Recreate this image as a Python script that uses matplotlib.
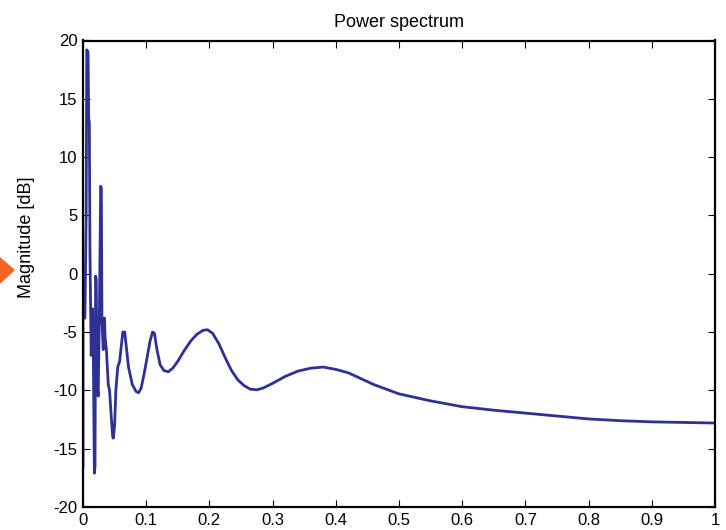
import matplotlib
matplotlib.use("Agg")
import matplotlib.pyplot as plt
from matplotlib.patches import Polygon

plt.rcParams['font.family'] = ['Liberation Sans', 'DejaVu Sans']

title = "Power spectrum"
ylabel = "Magnitude [dB]"

freq = [0.000, 0.000, 0.003, 0.005, 0.006, 0.008, 0.009, 0.010, 0.011, 0.012,
        0.013, 0.015, 0.016, 0.018, 0.019, 0.020, 0.021, 0.022, 0.024, 0.026,
        0.028, 0.029, 0.030, 0.032, 0.034, 0.035, 0.037, 0.040, 0.042, 0.045,
        0.047, 0.048, 0.050, 0.052, 0.055, 0.058, 0.060, 0.063, 0.066, 0.068,
        0.072, 0.078, 0.084, 0.088, 0.092, 0.097, 0.102, 0.106, 0.110, 0.113,
        0.117, 0.122, 0.128, 0.135, 0.142, 0.150, 0.160, 0.170, 0.180, 0.190,
        0.197, 0.205, 0.215, 0.225, 0.235, 0.245, 0.255, 0.265, 0.275, 0.285,
        0.300, 0.320, 0.340, 0.360, 0.380, 0.400, 0.420, 0.440, 0.460, 0.480,
        0.500, 0.550, 0.600, 0.650, 0.700, 0.750, 0.800, 0.850, 0.900, 0.950,
        1.000]
mag_db = [-16.6, -3.5, -3.8, 5.0, 19.2, 19.0, 13.3, 13.0, 2.0, -2.5,
          -7.0, -3.0, -5.0, -17.1, -16.5, -0.2, -0.5, -9.0, -10.5, -3.0,
          7.5, 7.3, -4.0, -6.5, -3.8, -5.5, -6.5, -9.5, -10.0, -12.5,
          -14.0, -14.1, -13.0, -10.0, -8.0, -7.5, -6.5, -5.0, -5.0, -6.0,
          -8.0, -9.5, -10.1, -10.2, -9.8, -8.5, -7.0, -5.8, -5.0, -5.1,
          -6.5, -7.8, -8.3, -8.4, -8.1, -7.5, -6.6, -5.8, -5.2, -4.85,
          -4.8, -5.1, -6.0, -7.2, -8.3, -9.1, -9.6, -9.9, -9.95, -9.8,
          -9.4, -8.8, -8.35, -8.1, -8.0, -8.2, -8.5, -9.0, -9.5, -9.9,
          -10.3, -10.9, -11.4, -11.7, -11.95, -12.2, -12.45, -12.6, -12.7, -12.75,
          -12.8]

xticks = [0, 0.1, 0.2, 0.3, 0.4, 0.5, 0.6, 0.7, 0.8, 0.9, 1]
xticklabels = ["0", "0.1", "0.2", "0.3", "0.4", "0.5", "0.6", "0.7", "0.8", "0.9", "1"]
yticks = [-20, -15, -10, -5, 0, 5, 10, 15, 20]
yticklabels = ["-20", "-15", "-10", "-5", "0", "5", "10", "15", "20"]

fig = plt.figure(figsize=(7.26, 5.30), dpi=100)
ax = fig.add_axes([83/726, 23/530, 632/726, 466.5/530])
ax.plot(freq, mag_db, color='#2e3192', lw=2.0)
ax.set_xlim(0, 1)
ax.set_ylim(-20, 20)
ax.set_xticks(xticks)
ax.set_xticklabels(xticklabels)
ax.set_yticks(yticks)
ax.set_yticklabels(yticklabels)
ax.tick_params(direction='in', length=5, width=0.8, top=True, right=True,
               labelsize=12, pad=4)
for s in ax.spines.values():
    s.set_linewidth(1.6)
ax.set_title(title, fontsize=13, pad=10)
ax.set_ylabel(ylabel, fontsize=13)
ax.yaxis.set_label_coords(-0.076, 0.579)

# orange marker at left edge
tri = Polygon([[0/726, 1-258/530], [0/726, 1-283/530], [14/726, 1-270/530]],
              closed=True, transform=fig.transFigure, color='#f26522',
              clip_on=False)
fig.patches.append(tri)

fig.savefig("out.png", dpi=100)
